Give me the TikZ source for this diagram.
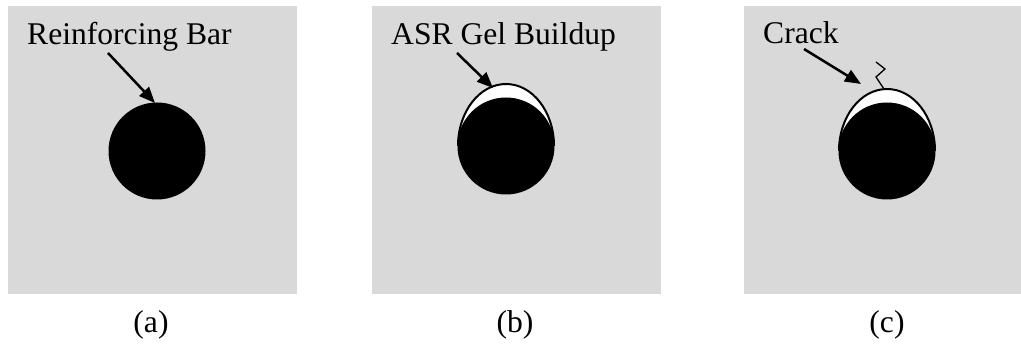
\documentclass[tikz,border=0pt]{standalone}
\usepackage{fontspec}
\setmainfont{Liberation Serif}
\usetikzlibrary{arrows.meta}
\definecolor{concrete}{RGB}{217,217,217}
\tikzset{
  panel/.style={fill=concrete, draw=none},
  bar/.style={circle, fill=black, draw=none, minimum size=97pt, inner sep=0pt},
  gel/.style={fill=white, draw=black, line width=2pt},
  ptr/.style={line width=2.5pt, -{Triangle[length=16pt,width=13pt]}},
  crackline/.style={line width=1.3pt, line join=miter},
  lbl/.style={inner sep=0pt, anchor=base west, font=\fontsize{31.6}{38}\selectfont},
  sublabel/.style={inner sep=0pt, anchor=base, font=\fontsize{31.6}{38}\selectfont}
}
\begin{document}
\begin{tikzpicture}[x=1pt,y=-1pt]
\useasboundingbox (0,0) rectangle (1021,344);
% panels
\fill[panel] (8,6) rectangle (297,294);
\fill[panel] (372,6) rectangle (661,294);
\fill[panel] (744,6) rectangle (1021,294);

% (a)
\node[bar] (barA) at (157,151) {};
\node[lbl] (tA) at (27,45) {Reinforcing Bar};
\coordinate (aS) at (108,53);
\coordinate (aT) at (155,103);
\draw[ptr] (aS) -- (aT);
\node[sublabel] (capA) at (151,333) {(a)};

% (b)
\begin{scope}
  \clip (440,60) rectangle (575,146);
  \draw[gel] (506,146) ellipse [x radius=48pt, y radius=62pt];
\end{scope}
\node[bar] (barB) at (506,146) {};
\node[lbl] (tB) at (391,45) {ASR Gel Buildup};
\coordinate (bS) at (457,53);
\coordinate (bT) at (493,88);
\draw[ptr] (bS) -- (bT);
\node[sublabel] (capB) at (515,333) {(b)};

% (c)
\begin{scope}
  \clip (820,60) rectangle (955,151);
  \draw[gel] (887,151) ellipse [x radius=48pt, y radius=62pt];
\end{scope}
\node[bar] (barC) at (887,151) {};
\coordinate (k0) at (884,89);
\coordinate (k1) at (876,77);
\coordinate (k2) at (885,69);
\coordinate (k3) at (876,62);
\draw[crackline] (k0) -- (k1) -- (k2) -- (k3);
\node[lbl] (tC) at (763,44) {Crack};
\coordinate (cS) at (804,49);
\coordinate (cT) at (861,84);
\draw[ptr] (cS) -- (cT);
\node[sublabel] (capC) at (887,333) {(c)};
\end{tikzpicture}
\end{document}
